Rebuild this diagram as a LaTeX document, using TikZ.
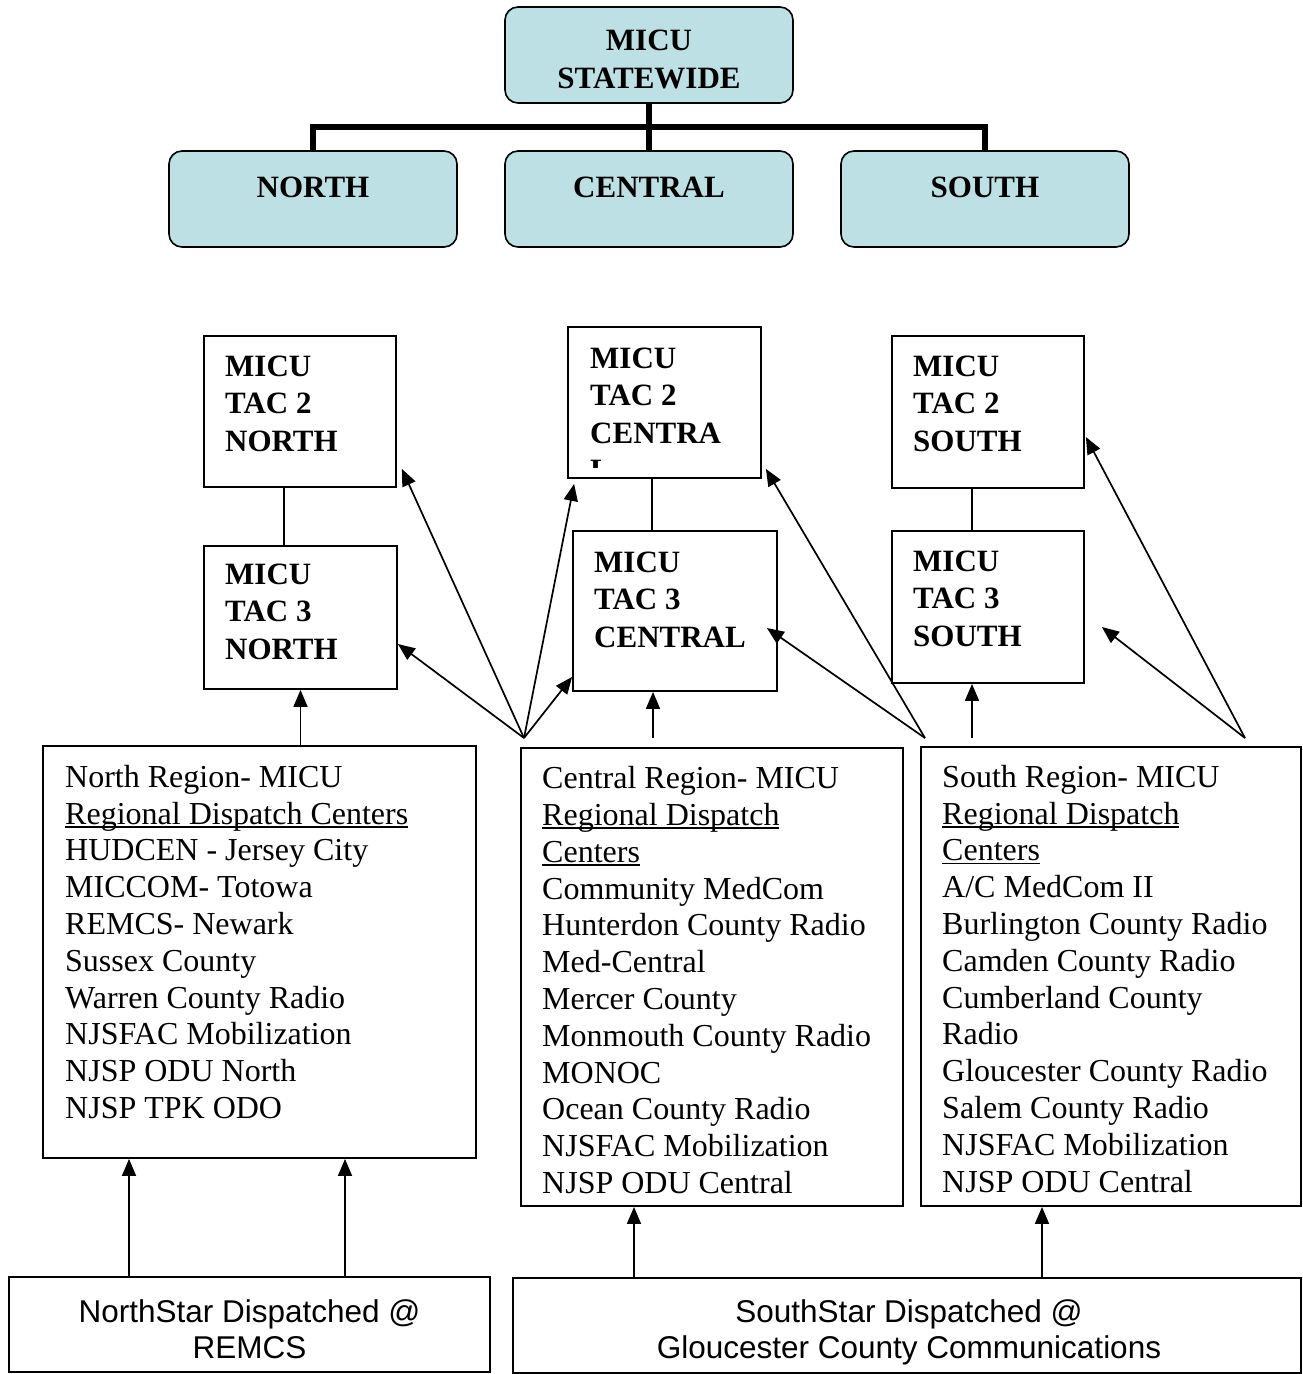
\documentclass[tikz,border=0pt]{standalone}
\usepackage{fontspec}
\setmainfont{Liberation Serif}
\newfontfamily\arialfont{Liberation Sans}
\usetikzlibrary{arrows.meta,calc}
\definecolor{micublue}{RGB}{188,224,227}
\tikzstyle{zonebox}=[draw,rounded corners=13pt,fill=micublue,line width=1.6pt,minimum width=288pt,minimum height=96pt,inner sep=0pt]
\tikzstyle{zonetext}=[font=\bfseries\fontsize{31}{37.5}\selectfont,align=center,inner sep=0pt,anchor=base]
\tikzstyle{tacbox}=[draw,line width=1.8pt,inner sep=0pt]
\tikzstyle{tactext}=[font=\bfseries\fontsize{31}{37.5}\selectfont,align=left,inner sep=0pt,anchor=base west]
\tikzstyle{listtext}=[font=\fontsize{32}{36.8}\selectfont,align=left,inner sep=0pt,anchor=base west]
\tikzstyle{startext}=[font=\arialfont\fontsize{31.5}{36}\selectfont,align=center,inner sep=0pt,anchor=base]
\tikzstyle{uplink}=[draw,line width=1.7pt,-{Triangle[length=17pt,width=14pt]}]
\tikzstyle{link}=[draw,line width=1.7pt]
\tikzstyle{trunk}=[draw,line width=5.5pt]
\newcommand{\dispul}[1]{\setbox0\hbox{#1}\rlap{\rule[-3.5pt]{\wd0}{1.6pt}}#1}

\begin{document}
\begin{tikzpicture}[x=1pt,y=-1pt]
   \useasboundingbox (0,0) rectangle (1302,1374);

    % statewide and zones (text placed at the baseline of its last line)
    \foreach \pos/\name in {{(649,55)/top},{(313,199)/nzone},{(649,199)/czone},{(985,199)/szone}}
        \node[zonebox] (\name) at \pos {};
    \node[zonetext] (topt) at (649,88) {MICU\\STATEWIDE};
    \foreach \pos/\name/\label in {{(313,197)/nzonet/NORTH},{(649,197)/czonet/CENTRAL},{(985,197)/szonet/SOUTH}}
        \node[zonetext] (\name) at \pos {\label};

    \coordinate (hub) at (649,127);
    \draw[trunk] (top.south) -- (czone.north);
    \draw[trunk] (nzone.north) |- (hub) -| (szone.north);

    % tac boxes
    \foreach \pos/\name/\w/\h in {{(300,411.5)/tn2/192/151},{(300.5,617.5)/tn3/193/143},
                                 {(664.5,402.5)/tc2/193/151},{(675,611)/tc3/204/160},
                                 {(988,412)/ts2/192/152},{(988,607)/ts3/192/152}}
        \node[tacbox,minimum width=\w pt,minimum height=\h pt] (\name) at \pos {};

    \node[tactext] (tn2t) at (225,451) {MICU\\TAC 2\\NORTH};
    \node[tactext] (tn3t) at (225,659) {MICU\\TAC 3\\NORTH};
    \begin{scope}
        \clip (tc2.north west) rectangle ($(tc2.south east)+(0,-11)$);
        \node[tactext] (tc2t) at (590,480.5) {MICU\\TAC 2\\CENTRA\\L};
    \end{scope}
    \node[tactext] (tc3t) at (594,647) {MICU\\TAC 3\\CENTRAL};
    \node[tactext] (ts2t) at (913,451) {MICU\\TAC 2\\SOUTH};
    \node[tactext] (ts3t) at (913,646) {MICU\\TAC 3\\SOUTH};

    \foreach \upper/\lower/\ux/\lx in {tn2/tn3/-16/-16.5, tc2/tc3/-12.5/-23, ts2/ts3/-16/-16}
        \draw[link] ($(\upper.south)+(\ux,0)$) -- ($(\lower.north)+(\lx,0)$);

    % regional dispatch lists
    \foreach \pos/\name/\w/\h in {{(259.5,952)/rn/433/412},{(712,977)/rc/382/458},{(1111,976.5)/rs/380/459}}
        \node[tacbox,minimum width=\w pt,minimum height=\h pt] (\name) at \pos {};

    \node[listtext] (rnt) at (65,1118.5) {North Region- MICU\\\dispul{Regional Dispatch Centers}\\HUDCEN - Jersey City\\MICCOM- Totowa\\REMCS- Newark\\Sussex County\\Warren County Radio\\NJSFAC Mobilization\\NJSP ODU North\\NJSP TPK ODO};
    \node[listtext] (rct) at (542,1193.5) {Central Region- MICU\\\dispul{Regional Dispatch}\\\dispul{Centers}\\Community MedCom\\Hunterdon County Radio\\Med-Central\\Mercer County\\Monmouth County Radio\\MONOC\\Ocean County Radio\\NJSFAC Mobilization\\NJSP ODU Central};
    \node[listtext] (rst) at (942,1192) {South Region- MICU\\\dispul{Regional Dispatch}\\\dispul{Centers}\\A/C MedCom II\\Burlington County Radio\\Camden County Radio\\Cumberland County\\Radio\\Gloucester County Radio\\Salem County Radio\\NJSFAC Mobilization\\NJSP ODU Central};

    % star dispatch
    \foreach \pos/\name/\w/\h in {{(249.5,1324.5)/ns/481/95},{(907,1325.5)/ss/788/95}}
        \node[tacbox,minimum width=\w pt,minimum height=\h pt] (\name) at \pos {};
    \node[startext] (nst) at (249.5,1358.5) {NorthStar Dispatched @\\REMCS};
    \node[startext] (sst) at (909,1358.5) {SouthStar Dispatched @\\Gloucester County Communications};

    \foreach \src/\dx/\dest in {ns/-120.5/rn, ns/95.5/rn, ss/-273/rc, ss/135/rs}{
        \coordinate (foot) at ($(\src.north)+(\dx,0)$);
        \draw[uplink] (foot) -- (foot |- \dest.south);
    }

    % arrows up to the tac boxes
    \coordinate (fanW) at (524,738);
    \coordinate (fanM) at (925,738);
    \coordinate (fanE) at (1245,738);
    \coordinate (cUp) at (653,738);
    \coordinate (sUp) at (972,738);

    \draw[uplink] (tn3.south |- rn.north) -- (tn3.south);
    \draw[uplink] (cUp) -- (cUp |- tc3.south);
    \draw[uplink] (sUp) -- (sUp |- ts3.south);

    \foreach \dest/\dx/\dy in {tn3.east/0/26.5, tn2.south east/5/-19, tc2.south west/7/5, tc3.south west/0/-15}
        \draw[uplink] (fanW) -- ($(\dest)+(\dx,\dy)$);
    \foreach \dest/\dx/\dy in {tc2.south east/4/-10, tc3.east/-11/17}
        \draw[uplink] (fanM) -- ($(\dest)+(\dx,\dy)$);
    \foreach \dest/\dx/\dy in {ts2.east/1/25, ts3.east/17/20}
        \draw[uplink] (fanE) -- ($(\dest)+(\dx,\dy)$);

\end{tikzpicture}
\end{document}
